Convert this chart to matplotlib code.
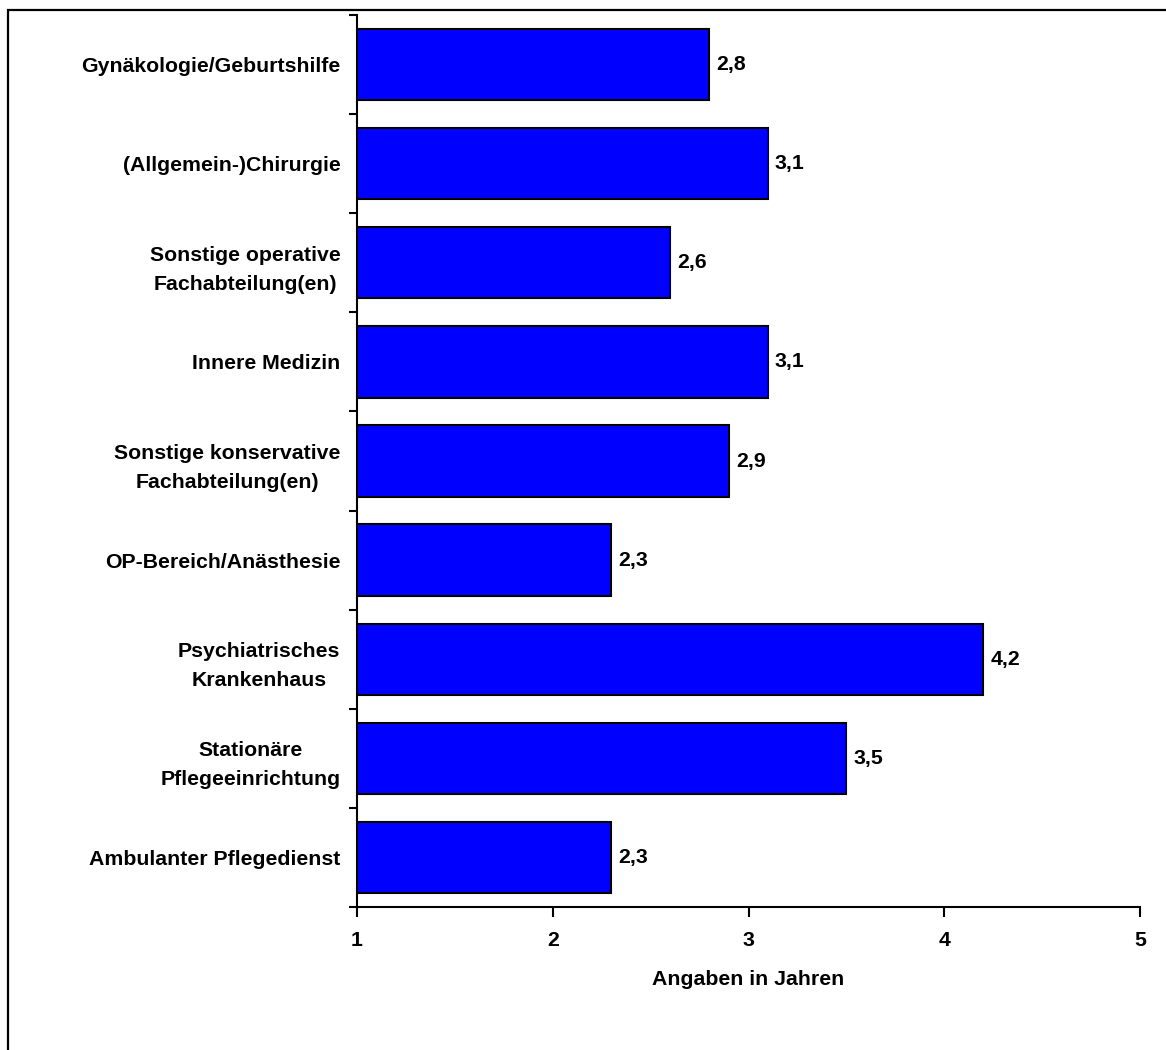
import matplotlib.pyplot as plt
from matplotlib.patches import Rectangle

plt.rcParams['font.family'] = ['Liberation Sans', 'DejaVu Sans']
plt.rcParams['font.weight'] = 'bold'

kategorien = [
    "Gynäkologie/Geburtshilfe",
    "(Allgemein-)Chirurgie",
    "Sonstige operative\nFachabteilung(en)",
    "Innere Medizin",
    "Sonstige konservative\nFachabteilung(en)",
    "OP-Bereich/Anästhesie",
    "Psychiatrisches\nKrankenhaus",
    "Stationäre\nPflegeeinrichtung",
    "Ambulanter Pflegedienst",
]
jahre = [2.8, 3.1, 2.6, 3.1, 2.9, 2.3, 4.2, 3.5, 2.3]
xticks = [1, 2, 3, 4, 5]

fs = 15.3

fig = plt.figure(figsize=(11.66, 10.5), dpi=100)
# Rahmen um die Grafik (rechts und unten abgeschnitten)
fig.patches.append(Rectangle((8 / 1166, -0.05), 1.2, (1040 / 1050) + 0.05,
                             transform=fig.transFigure, fill=False,
                             edgecolor='black', linewidth=1.6))

ax = fig.add_axes([0.3062, 0.1362, 0.6715, 0.8495])

pos = list(range(len(kategorien)))
ax.barh(pos, [v - 1 for v in jahre], left=1, height=0.72,
        color='#0000FF', edgecolor='black', linewidth=1.5)

for p, v in zip(pos, jahre):
    ax.text(v + 0.035, p, f"{v:.1f}".replace('.', ','), va='center', ha='left',
            fontsize=fs, fontweight='bold')

ax.set_xlim(1, 5)
ax.set_ylim(len(kategorien) - 0.5, -0.5)
ax.set_xticks(xticks)
ax.set_xticklabels([str(t) for t in xticks], fontsize=fs, fontweight='bold')
ax.set_xlabel("Angaben in Jahren", fontsize=fs, fontweight='bold', labelpad=15)

ax.set_yticks(pos)
ax.set_yticklabels(kategorien, fontsize=fs, fontweight='bold')
for lab in ax.get_yticklabels():
    lab.set_multialignment('center')
    lab.set_linespacing(1.65)
ax.tick_params(axis='y', length=0, pad=12)
# kleine Striche zwischen den Kategorien
ax.set_yticks([p - 0.5 for p in pos] + [len(pos) - 0.5], minor=True)
ax.tick_params(axis='y', which='minor', length=6, width=1.5, direction='out')
ax.tick_params(axis='x', length=7, width=1.5, direction='out', pad=10)

for s in ['top', 'right']:
    ax.spines[s].set_visible(False)
for s in ['left', 'bottom']:
    ax.spines[s].set_linewidth(1.5)

fig.savefig('out.png', dpi=100)
